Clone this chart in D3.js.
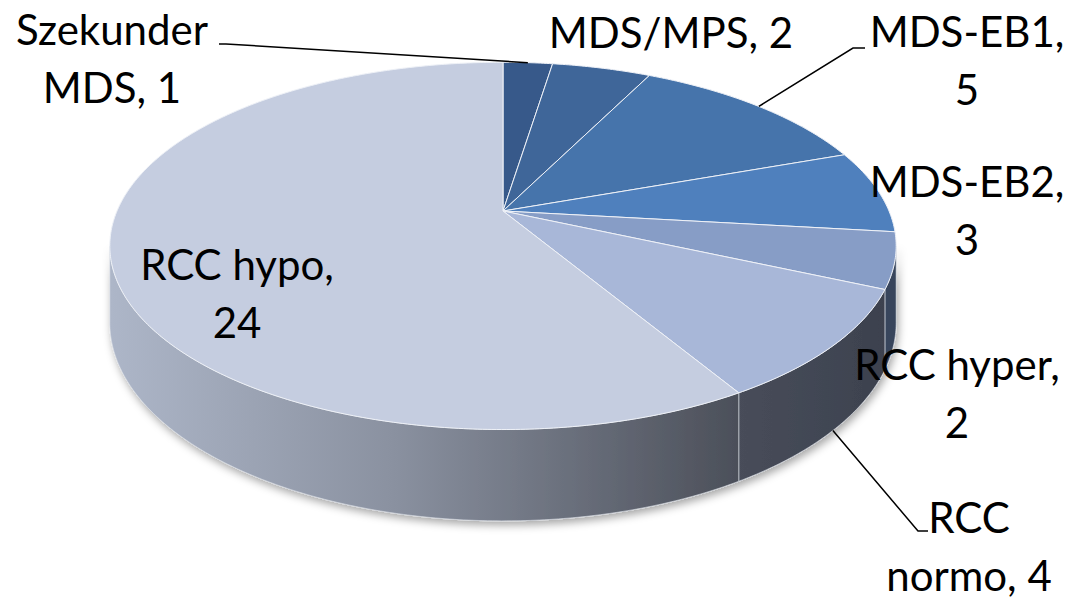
<!DOCTYPE html>
<html>
<head>
<meta charset="utf-8">
<script src="https://cdn.jsdelivr.net/npm/d3@7"></script>
<style>
    body { margin: 0; background: #fff; }
    svg { display: block; }
    .label { font-family: Lato, "Open Sans", sans-serif; font-size: 42px; fill: #000; }
    .leader { fill: none; stroke: #000; stroke-width: 1.5; }
</style>
</head>
<body>
<div id="chart"></div>
<script>
// 数据
const categories = ['Szekunder MDS', 'MDS/MPS', 'MDS-EB1', 'MDS-EB2', 'RCC hyper', 'RCC normo', 'RCC hypo'];
const values = [1, 2, 5, 3, 2, 4, 24];
// 标签在第几个词之后换行（0 = 不换行）
const labelBreaks = [1, 0, 1, 1, 2, 1, 2];

// 样式
const TOP_COLORS = ['#37598a', '#3f6699', '#4674ab', '#4f80bd', '#879dc6', '#a8b7d8', '#c5cde0'];
const SIDE_COLORS = ['#2f4a72', '#354f78', '#3a5a85', '#3e4c64', '#38455b', 'url(#side-normo)', 'url(#side-hypo)'];

// 标签布局：首行中心 x、基线 y；引线起点
const LABEL_POS = [[112, 45], [671, 48], [967, 47], [967, 197], [957, 380], [969, 533], [237, 280]];
const LEADERS = { 0: [[219, 44], [226, 44]], 2: [[865, 48], [853, 48]], 5: [[928, 531], [918, 531]] };
const LINE_H = 58;

const width = 1071, height = 602;
// 透视椭圆参数
const cx = 503, cy = 211, A = 386, B = 177, K = 0.19, T = 74;

function project(theta, bottom) {
    const d = 1 + K * Math.cos(theta);
    return [cx + A * Math.sin(theta) / d, cy - B * Math.cos(theta) / d + (bottom ? T / d : 0)];
}

function arcPoints(a0, a1, bottom) {
    const n = Math.max(2, Math.ceil(Math.abs(a1 - a0) / 0.01));
    return d3.range(n + 1).map(i => project(a0 + (a1 - a0) * i / n, bottom));
}

const svg = d3.select('#chart').append('svg')
    .attr('width', width)
    .attr('height', height);

const defs = svg.append('defs');

const gHypo = defs.append('linearGradient').attr('id', 'side-hypo')
    .attr('gradientUnits', 'userSpaceOnUse')
    .attr('x1', 110).attr('x2', 740).attr('y1', 0).attr('y2', 0);
gHypo.append('stop').attr('offset', 0).attr('stop-color', '#adb6c8');
gHypo.append('stop').attr('offset', 0.45).attr('stop-color', '#8a91a0');
gHypo.append('stop').attr('offset', 1).attr('stop-color', '#4b4f59');

const gNormo = defs.append('linearGradient').attr('id', 'side-normo')
    .attr('gradientUnits', 'userSpaceOnUse')
    .attr('x1', 735).attr('x2', 890).attr('y1', 0).attr('y2', 0);
gNormo.append('stop').attr('offset', 0).attr('stop-color', '#484d5a');
gNormo.append('stop').attr('offset', 1).attr('stop-color', '#3c414e');

defs.append('filter').attr('id', 'shadow')
    .attr('x', '-10%').attr('y', '-10%').attr('width', '120%').attr('height', '130%')
    .append('feDropShadow')
    .attr('dx', 2).attr('dy', 4).attr('stdDeviation', 4)
    .attr('flood-color', '#000').attr('flood-opacity', 0.35);

const pie = d3.pie().sort(null).value(d => d);
const arcs = pie(values);

const line = d3.line();
const vMin = Math.acos(-K), vMax = 2 * Math.PI - vMin;

// 侧面
const sideGroup = svg.append('g').attr('filter', 'url(#shadow)');
arcs.forEach((a, i) => {
    const s = Math.max(a.startAngle, vMin);
    const e = Math.min(a.endAngle, vMax);
    if (s >= e) return;
    const pts = arcPoints(s, e, false).concat(arcPoints(e, s, true));
    sideGroup.append('path')
        .attr('d', line(pts) + 'Z')
        .attr('fill', SIDE_COLORS[i])
        .attr('stroke', '#d8dce4')
        .attr('stroke-width', 0.8)
        .attr('stroke-opacity', 0.8);
});

// 顶面
const topGroup = svg.append('g');
arcs.forEach((a, i) => {
    const pts = [[cx, cy]].concat(arcPoints(a.startAngle, a.endAngle, false));
    topGroup.append('path')
        .attr('d', line(pts) + 'Z')
        .attr('fill', TOP_COLORS[i])
        .attr('stroke', '#eef1f7')
        .attr('stroke-width', 1)
        .attr('stroke-linejoin', 'round');
});

// 引线
Object.keys(LEADERS).forEach(k => {
    const i = +k;
    const mid = (arcs[i].startAngle + arcs[i].endAngle) / 2;
    const end = project(mid, i === 5);
    svg.append('path')
        .attr('class', 'leader')
        .attr('d', line(LEADERS[k].concat([end])));
});

// 标签
categories.forEach((c, i) => {
    const words = `${c}, ${values[i]}`.split(' ');
    const b = labelBreaks[i];
    const lines = b ? [words.slice(0, b).join(' '), words.slice(b).join(' ')] : [words.join(' ')];
    const t = svg.append('text')
        .attr('class', 'label')
        .attr('text-anchor', 'middle');
    lines.forEach((l, j) => {
        t.append('tspan')
            .attr('x', LABEL_POS[i][0])
            .attr('y', LABEL_POS[i][1] + j * LINE_H)
            .text(l);
    });
});
</script>
</body>
</html>
